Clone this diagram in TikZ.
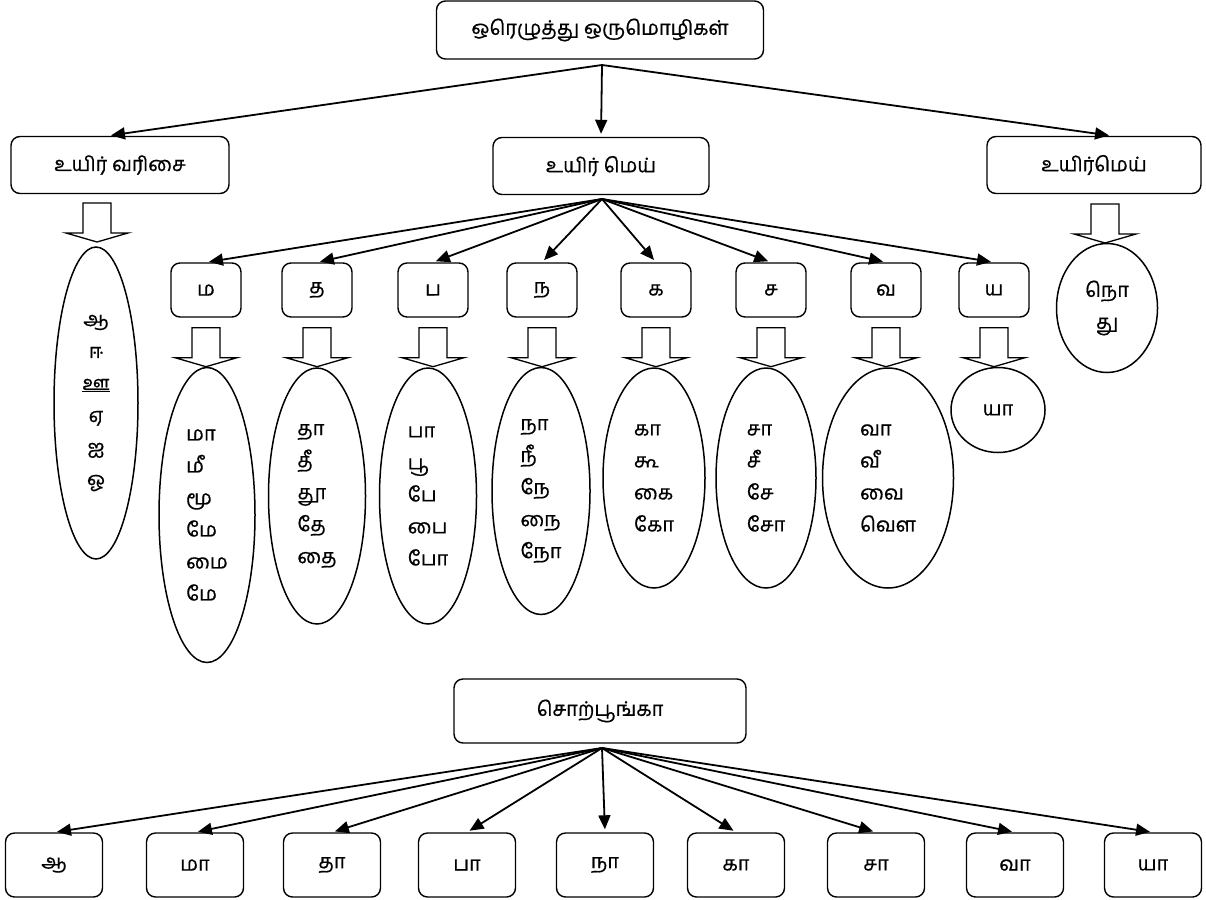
\documentclass[tikz,border=0pt]{standalone}
\usepackage{fontspec}
\newfontfamily\tamil[Script=Tamil,FakeBold=0.7]{Hind Madurai}
\usetikzlibrary{shapes.geometric,arrows.meta,calc}

\tikzset{
	box/.style={draw=black,line width=1.4pt,rounded corners=9pt,inner sep=0pt},
	cbox/.style={box,minimum width=70pt,minimum height=54pt},
	wbox/.style={box,minimum width=97pt,minimum height=64pt},
	oval/.style={ellipse,draw=black,line width=1.5pt,inner sep=0pt,align=left},
	link/.style={-{Triangle[length=14pt,width=12pt]},line width=1.8pt,shorten >=3pt},
	hollow/.pic={
		\draw[line width=1.3pt,line join=miter] (-14,0) -- (14,0) -- (14,30) -- (31,30)
			-- (0,39) -- (-31,30) -- (-14,30) -- cycle;
	}
}

\begin{document}
\begin{tikzpicture}[x=1pt,y=-1pt,font=\tamil\fontsize{20}{32}\selectfont]
	\useasboundingbox (0,0) rectangle (1206,899);

	% top level
	\node[box,minimum width=327pt,minimum height=58pt] (root) at (600,30) {ஒரெழுத்து ஒருமொழிகள்};
	\node[box,minimum width=218pt,minimum height=57pt] (uv) at (120,165) {உயிர் வரிசை};
	\node[box,minimum width=216pt,minimum height=57pt] (um) at (601,166) {உயிர் மெய்};
	\node[box,minimum width=214pt,minimum height=57pt] (ur) at (1094,165) {உயிர்மெய்};
	\coordinate (rootfoot) at (602,65);
	\draw[link] (rootfoot) -- ([xshift=-12pt]uv.north);
	\draw[link] (rootfoot) -- (um.north);
	\draw[link] (rootfoot) -- ([xshift=18pt]ur.north);

	% consonants
	\node[cbox] (ma) at (206,290) {ம};
	\node[cbox] (tha) at (317,290) {த};
	\node[cbox] (pa) at (433,290) {ப};
	\node[cbox] (na) at (542,290) {ந};
	\node[cbox] (ka) at (656,290) {க};
	\node[cbox] (sa) at (771,290) {ச};
	\node[cbox] (va) at (886,290) {வ};
	\node[cbox] (ya) at (994,290) {ய};
	\coordinate (umfoot) at (602,199);
	\foreach \c in {ma,tha,pa,na,ka,sa,va,ya}
		\draw[link] (umfoot) -- (\c.north);

	% block arrows
	\pic at (97,203) {hollow};
	\pic at (1105,204) {hollow};
	\foreach \c in {ma,tha,pa,na,ka,sa,va,ya}
		\pic at ($(\c.south)+(0,10)$) {hollow};

	% letter sets
	\node[oval,align=center,minimum width=84pt,minimum height=312pt] (vowels) at (96,403) {ஆ\\ஈ\\\underline{ஊ}\\ஏ\\ஐ\\ஓ};
	\node[oval,minimum width=96pt,minimum height=295pt] (maset) at (207,515) {மா\\மீ\\மூ\\மே\\மை\\மே};
	\node[oval,minimum width=97pt,minimum height=256pt] (thaset) at (317,496) {தா\\தீ\\தூ\\தே\\தை};
	\node[oval,minimum width=97pt,minimum height=256pt] (paset) at (428,496) {பா\\பூ\\பே\\பை\\போ};
	\node[oval,minimum width=98pt,minimum height=247pt] (naset) at (541,491) {நா\\நீ\\நே\\நை\\நோ};
	\node[oval,minimum width=102pt,minimum height=220pt] (kaset) at (654,478) {கா\\கூ\\கை\\கோ};
	\node[oval,minimum width=100pt,minimum height=220pt] (saset) at (766,478) {சா\\சீ\\சே\\சோ};
	\node[oval,minimum width=131pt,minimum height=220pt] (vaset) at (888,478) {வா\\வீ\\வை\\வௌ};
	\node[oval,minimum width=94pt,minimum height=85pt] (yaset) at (998,410) {யா};
	\node[oval,align=center,minimum width=101pt,minimum height=129pt] (noset) at (1107,308) {நொ\\து};

	% word garden
	\node[box,minimum width=292pt,minimum height=64pt] (park) at (600,711) {சொற்பூங்கா};
	\node[wbox] (wa) at (54,865) {ஆ};
	\node[wbox] (wma) at (195,865) {மா};
	\node[wbox] (wtha) at (332,865) {தா};
	\node[wbox] (wpa) at (467,865) {பா};
	\node[wbox] (wna) at (605,865) {நா};
	\node[wbox] (wka) at (736,865) {கா};
	\node[wbox] (wsa) at (876,865) {சா};
	\node[wbox] (wva) at (1015,865) {வா};
	\node[wbox] (wya) at (1153,865) {யா};
	\coordinate (parkfoot) at (602,748);
	\foreach \w in {wa,wma,wtha,wpa,wna,wka,wsa,wva,wya}
		\draw[link] (parkfoot) -- (\w.north);
\end{tikzpicture}
\end{document}
